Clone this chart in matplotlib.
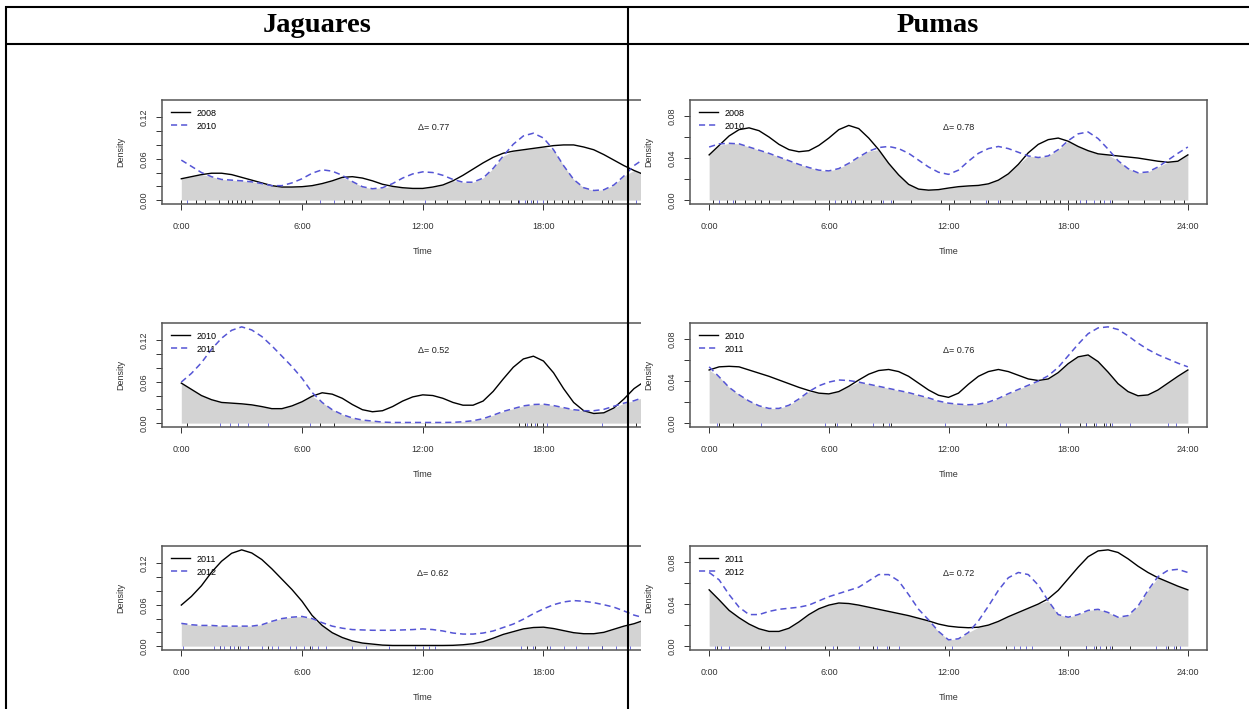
import numpy as np
import matplotlib
matplotlib.use("Agg")
import matplotlib.pyplot as plt
from matplotlib.lines import Line2D
from matplotlib.patches import Rectangle

plt.rcParams['font.family'] = ['Liberation Sans', 'DejaVu Sans']

W, H = 1249, 709
BLUE = '#5555d5'

# density curves, sampled every half hour from 0:00 to 24:00
hours = np.arange(0, 24.01, 0.5)

jag_2008 = [0.031, 0.034, 0.037, 0.039, 0.039, 0.037, 0.033, 0.029, 0.025, 0.021, 0.019, 0.019,
            0.0195, 0.021, 0.024, 0.028, 0.033, 0.034, 0.032, 0.028, 0.023, 0.020, 0.018, 0.017,
            0.017, 0.019, 0.022, 0.028, 0.036, 0.045, 0.054, 0.062, 0.068, 0.071, 0.073, 0.075,
            0.077, 0.079, 0.080, 0.080, 0.077, 0.073, 0.066, 0.058, 0.050, 0.043, 0.037, 0.033,
            0.031]
jag_2010 = [0.058, 0.049, 0.040, 0.034, 0.030, 0.029, 0.028, 0.0265, 0.024, 0.021, 0.021, 0.025,
            0.031, 0.039, 0.044, 0.042, 0.036, 0.027, 0.0195, 0.0165, 0.018, 0.024, 0.032, 0.038,
            0.041, 0.040, 0.036, 0.030, 0.026, 0.026, 0.032, 0.046, 0.064, 0.081, 0.093, 0.097,
            0.090, 0.073, 0.050, 0.030, 0.018, 0.014, 0.015, 0.022, 0.035, 0.050, 0.060, 0.063,
            0.058]
jag_2011 = [0.0595, 0.072, 0.0875, 0.107, 0.123, 0.1345, 0.1395, 0.135, 0.1255, 0.112, 0.097, 0.082,
            0.065, 0.0445, 0.030, 0.0195, 0.0125, 0.0075, 0.0045, 0.003, 0.0015, 0.001, 0.001, 0.001,
            0.001, 0.001, 0.001, 0.0012, 0.002, 0.0035, 0.0065, 0.0115, 0.017, 0.021, 0.025, 0.027,
            0.0275, 0.0255, 0.0225, 0.0195, 0.018, 0.018, 0.020, 0.0245, 0.029, 0.0325, 0.0375, 0.0465,
            0.0595]
jag_2012 = [0.033, 0.031, 0.030, 0.030, 0.029, 0.029, 0.029, 0.029, 0.031, 0.036, 0.040, 0.042,
            0.043, 0.040, 0.034, 0.029, 0.026, 0.024, 0.0235, 0.023, 0.023, 0.023, 0.0235, 0.024,
            0.025, 0.024, 0.022, 0.019, 0.0175, 0.0175, 0.019, 0.022, 0.027, 0.032, 0.039, 0.047,
            0.054, 0.060, 0.064, 0.066, 0.065, 0.063, 0.060, 0.0565, 0.051, 0.045, 0.041, 0.037,
            0.033]

puma_2008 = [0.043, 0.052, 0.061, 0.067, 0.0687, 0.066, 0.060, 0.053, 0.048, 0.046, 0.047, 0.052,
             0.059, 0.067, 0.071, 0.068, 0.059, 0.048, 0.035, 0.024, 0.015, 0.0105, 0.0095, 0.010,
             0.0115, 0.0128, 0.0135, 0.014, 0.0155, 0.019, 0.025, 0.034, 0.045, 0.053, 0.0575, 0.059,
             0.056, 0.051, 0.047, 0.044, 0.043, 0.042, 0.041, 0.040, 0.0385, 0.037, 0.036, 0.037,
             0.043]
puma_2010 = [0.0505, 0.0535, 0.054, 0.0535, 0.0505, 0.0475, 0.0445, 0.041, 0.0375, 0.034, 0.031, 0.0285,
             0.0278, 0.030, 0.035, 0.041, 0.0465, 0.050, 0.051, 0.049, 0.0445, 0.038, 0.0315, 0.0265,
             0.0245, 0.0285, 0.037, 0.0445, 0.049, 0.051, 0.049, 0.0455, 0.042, 0.0405, 0.042, 0.048,
             0.0565, 0.063, 0.0648, 0.0585, 0.0485, 0.0375, 0.030, 0.026, 0.0268, 0.0315, 0.038, 0.0445,
             0.0505]
puma_2011 = [0.0535, 0.044, 0.034, 0.027, 0.021, 0.0165, 0.014, 0.014, 0.017, 0.023, 0.030, 0.0355,
             0.039, 0.041, 0.0405, 0.039, 0.037, 0.035, 0.033, 0.031, 0.029, 0.0265, 0.024, 0.021,
             0.019, 0.018, 0.0175, 0.018, 0.020, 0.0235, 0.028, 0.032, 0.036, 0.040, 0.045, 0.053,
             0.064, 0.075, 0.085, 0.0905, 0.0915, 0.089, 0.083, 0.076, 0.070, 0.065, 0.061, 0.057,
             0.0535]
puma_2012 = [0.070, 0.063, 0.049, 0.037, 0.030, 0.030, 0.033, 0.035, 0.036, 0.037, 0.039, 0.043,
             0.047, 0.050, 0.053, 0.056, 0.062, 0.068, 0.068, 0.062, 0.049, 0.035, 0.025, 0.014,
             0.006, 0.007, 0.013, 0.024, 0.038, 0.053, 0.065, 0.070, 0.068, 0.058, 0.043, 0.030,
             0.0275, 0.030, 0.034, 0.035, 0.032, 0.0275, 0.029, 0.038, 0.053, 0.066, 0.072, 0.073,
             0.070]

# detection times (hours) shown as rug ticks
jag_rug = {
    "2008": [0.0, 0.75, 1.2, 1.85, 2.3, 2.5, 2.75, 2.95, 3.15, 3.5, 4.85, 6.2, 8.1, 8.5, 8.95,
             10.3, 11.0, 12.6, 13.2, 14.1, 14.9, 15.3, 15.8, 16.4, 16.75, 17.2, 17.5, 18.2, 18.5,
             18.9, 19.2, 19.5, 19.9, 20.9, 21.2, 21.4],
    "2010": [0.3, 6.9, 7.6, 12.1, 16.8, 17.1, 17.4, 17.7, 18.0, 22.6, 23.2],
    "2011": [1.9, 2.4, 2.8, 3.3, 4.3, 6.4, 17.2, 17.6, 18.2, 20.9],
    "2012": [0.1, 1.6, 1.9, 2.1, 2.4, 2.6, 2.9, 3.3, 4.0, 4.5, 4.8, 5.4, 5.7, 6.1, 6.5, 6.8,
             7.2, 8.5, 9.2, 10.3, 11.6, 12.0, 12.3, 12.6, 16.9, 17.5, 18.3, 19.0, 19.6, 20.2,
             20.9, 21.6, 22.3],
}
puma_rug = {
    "2008": [0.2, 0.9, 1.3, 1.8, 2.3, 2.6, 3.0, 3.6, 4.2, 5.3, 6.0, 6.6, 6.9, 7.3, 7.7, 8.1,
             8.6, 9.2, 10.1, 11.6, 12.3, 13.1, 14.0, 14.6, 15.2, 15.9, 16.6, 16.9, 17.3, 17.6,
             18.0, 18.4, 18.9, 19.6, 20.2, 21.0, 21.8, 22.6, 23.3, 23.8],
    "2010": [0.5, 1.2, 6.3, 7.1, 8.7, 9.1, 13.9, 14.5, 18.6, 18.9, 19.3, 19.8, 20.1],
    "2011": [0.4, 2.6, 5.8, 6.4, 8.2, 9.0, 11.8, 14.9, 17.6, 18.9, 19.4, 19.9, 20.2, 21.1, 23.0, 23.4],
    "2012": [0.3, 0.6, 1.0, 3.0, 3.8, 6.2, 7.5, 8.4, 8.9, 9.5, 12.2, 15.3, 15.6, 15.9, 16.2,
             18.9, 19.3, 19.6, 20.1, 22.4, 22.9, 23.3, 23.6],
}

jag_dens = {"2008": jag_2008, "2010": jag_2010, "2011": jag_2011, "2012": jag_2012}
puma_dens = {"2008": puma_2008, "2010": puma_2010, "2011": puma_2011, "2012": puma_2012}

jag_pairs = [("2008", "2010", 0.77), ("2010", "2011", 0.52), ("2011", "2012", 0.62)]
puma_pairs = [("2008", "2010", 0.78), ("2010", "2011", 0.76), ("2011", "2012", 0.72)]

jag_ymax = 0.1395
puma_ymax = 0.0915
jag_yticks = [0.00, 0.02, 0.04, 0.06, 0.08, 0.10, 0.12]
jag_ylabels = ["0.00", "", "", "0.06", "", "", "0.12"]
puma_yticks = [0.00, 0.02, 0.04, 0.06, 0.08]
puma_ylabels = ["0.00", "", "0.04", "", "0.08"]

xtick_hours = [0, 6, 12, 18, 24]
xtick_labels = ["0:00", "6:00", "12:00", "18:00", "24:00"]

panel_tops = [100, 323, 546]
PANEL_H = 104


def px_axes(fig, left, top, width, height):
    return fig.add_axes([left / W, 1 - (top + height) / H, width / W, height / H])


def draw_panel(ax, dens, rug, pair, ymax, yticks, ylabels):
    y1, y2, delta = pair
    d1 = np.array(dens[y1])
    d2 = np.array(dens[y2])
    ax.fill_between(hours, 0, np.minimum(d1, d2), color='#d3d3d3', lw=0)
    ax.plot(hours, d1, color='black', lw=1.0, label=y1)
    ax.plot(hours, d2, color=BLUE, lw=1.1, ls=(0, (4, 2.6)), label=y2)
    trans = ax.get_xaxis_transform()
    ax.vlines(rug[y1], 0, 0.035, transform=trans, colors='black', lw=0.6)
    ax.vlines(rug[y2], 0, 0.035, transform=trans, colors=BLUE, lw=0.6)

    ax.set_xlim(-0.96, 24.96)
    ax.set_ylim(-0.04 * ymax, 1.04 * ymax)
    ax.set_xticks(xtick_hours)
    ax.set_xticklabels(xtick_labels)
    ax.set_yticks(yticks)
    ax.set_yticklabels(ylabels, rotation=90, va='center')
    ax.tick_params(axis='x', direction='out', length=4.3, width=0.7, pad=8.6,
                   labelsize=6.5, colors='#333333')
    ax.tick_params(axis='y', direction='out', length=4.3, width=0.7, pad=5.5,
                   labelsize=6.5, colors='#333333')
    for s in ax.spines.values():
        s.set_color('#555555')
        s.set_linewidth(1.1)

    ax.set_xlabel("Time", fontsize=6.5, color='#333333')
    ax.xaxis.set_label_coords(0.5, -48 / PANEL_H)
    ax.xaxis.label.set_va('center')
    ax.set_ylabel("Density", fontsize=6.5, color='#333333')
    ax.yaxis.set_label_coords(-41 / 520, 0.5)
    ax.yaxis.label.set_va('center')

    ax.legend(loc='upper left', frameon=False, fontsize=6.5, handlelength=2.2,
              handletextpad=0.65, labelspacing=0.45, borderaxespad=0.6, borderpad=0.35)
    ax.text(0.52, 0.735, f"\u0394= {delta:.2f}", transform=ax.transAxes,
            ha='center', va='center', fontsize=6.5, color='#222222')


fig = plt.figure(figsize=(W / 100, H / 100), dpi=100)

for top, pair in zip(panel_tops, jag_pairs):
    ax = px_axes(fig, 162, top, 521.5, PANEL_H)
    ax.set_zorder(0)
    draw_panel(ax, jag_dens, jag_rug, pair, jag_ymax, jag_yticks, jag_ylabels)

# the Jaguares plots are cut off where the Pumas images begin
fig.add_artist(Rectangle((641 / W, 0), 49 / W, 1 - 45 / H, transform=fig.transFigure,
                         facecolor='white', edgecolor='none', zorder=0.5))

for top, pair in zip(panel_tops, puma_pairs):
    ax = px_axes(fig, 690, top, 517, PANEL_H)
    ax.set_zorder(1)
    draw_panel(ax, puma_dens, puma_rug, pair, puma_ymax, puma_yticks, puma_ylabels)


# table grid
def hline(y, x0, x1):
    fig.add_artist(Line2D([x0 / W, x1 / W], [1 - y / H, 1 - y / H], transform=fig.transFigure,
                          color='black', lw=1.5, zorder=5, solid_capstyle='butt'))


def vline(x, y0, y1):
    fig.add_artist(Line2D([x / W, x / W], [1 - y0 / H, 1 - y1 / H], transform=fig.transFigure,
                          color='black', lw=1.5, zorder=5, solid_capstyle='butt'))


hline(7, 5, W)
hline(44, 5, W)
vline(6, 6, H)
vline(628, 6, H)

fig.text(317 / W, 1 - 26 / H, "Jaguares", ha='center', va='center', fontsize=20.5,
         fontweight='bold', family='Liberation Serif')
fig.text(938 / W, 1 - 26 / H, "Pumas", ha='center', va='center', fontsize=20.5,
         fontweight='bold', family='Liberation Serif')

fig.savefig("out.png", dpi=100, facecolor='white')
